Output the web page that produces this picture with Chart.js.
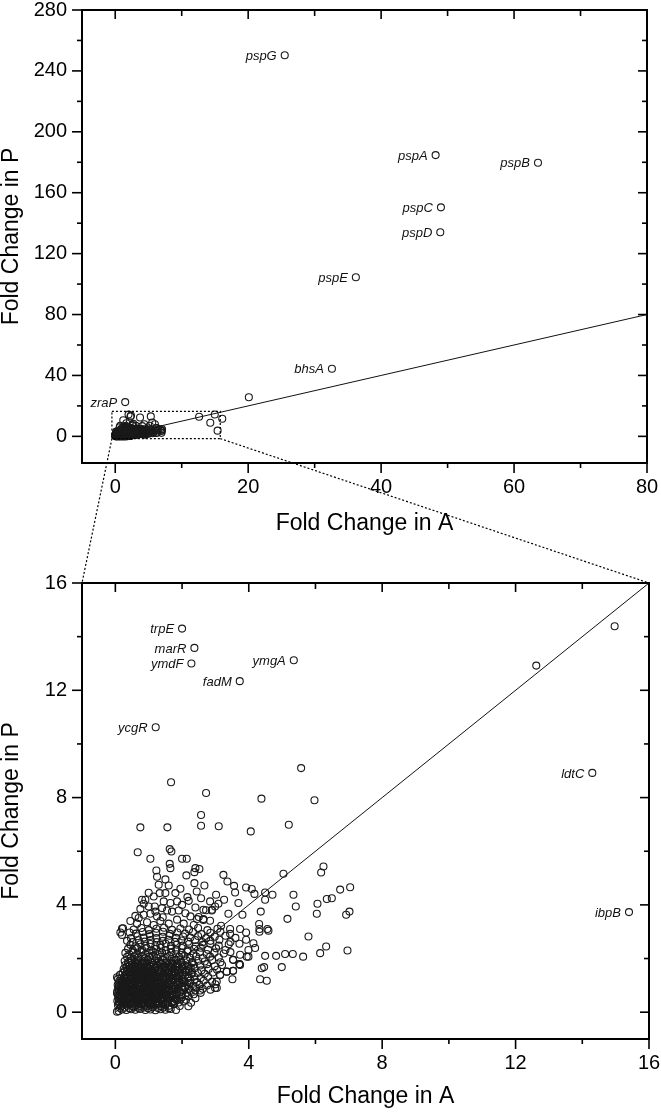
<!DOCTYPE html>
<html>
<head>
<meta charset="utf-8">
<script src="https://cdn.jsdelivr.net/npm/chart.js@4.4.0/dist/chart.umd.min.js"></script>
<style>
  html, body { margin: 0; padding: 0; background: #fff; }
  #wrap { position: relative; width: 661px; height: 1114px; }
  #wrap canvas { position: absolute; left: 0; }
  #topChart { top: 0; }
  #zoomChart { top: 560px; }
  #overlay { top: 0; pointer-events: none; }
</style>
</head>
<body>
<div id="wrap">
  <canvas id="topChart" width="661" height="560"></canvas>
  <canvas id="zoomChart" width="661" height="554"></canvas>
  <canvas id="overlay" width="661" height="1114"></canvas>
</div>
<script>
// ---- labelled genes, full view (Fold change in A, Fold change in P)
var topNames = ['pspG', 'pspA', 'pspB', 'pspC', 'pspD', 'pspE', 'bhsA', 'zraP'];
var topA = [25.5, 48.2, 63.6, 49.0, 48.9, 36.2, 32.6, 1.5];
var topP = [250.3, 184.7, 179.7, 150.4, 134.0, 104.5, 44.4, 22.5];

// ---- labelled genes, zoomed view
var zoomNames = ['trpE', 'marR', 'ymdF', 'fadM', 'ymgA', 'ycgR', 'ldtC', 'ibpB'];
var zoomA = [2.0, 2.37, 2.28, 3.73, 5.35, 1.21, 14.3, 15.4];
var zoomP = [14.3, 13.58, 13.0, 12.34, 13.12, 10.62, 8.92, 3.73];

// ---- other points outside the dense cloud
var highPts = [[12.62, 12.92], [14.97, 14.39], [16.1, 11.6], [20.1, 25.7]];
var midPts = [[1.67, 8.57], [2.72, 8.17], [2.57, 7.35], [4.38, 7.96], [5.57, 9.1], [5.97, 7.9],
  [0.75, 6.89], [1.56, 6.89], [2.57, 6.95], [3.1, 6.93], [4.06, 6.74], [5.2, 6.99]];
var outerPts = [[3.24, 5.12], [3.36, 4.87], [3.56, 4.71], [3.59, 4.46], [3.92, 4.65], [4.09, 4.59], [4.17, 4.41],
  [4.49, 4.46], [4.71, 4.38], [4.49, 4.19], [5.04, 5.16], [6.24, 5.43], [6.17, 5.21], [5.34, 4.38], [5.41, 3.94],
  [5.16, 3.48], [6.06, 4.04], [6.04, 3.67], [6.34, 4.22], [4.36, 3.75], [3.81, 3.63], [3.39, 3.67], [3.69, 4.07],
  [3.26, 4.19], [3.09, 4.04], [4.31, 3.29], [4.32, 3.1], [4.56, 3.1], [5.79, 2.82], [6.32, 2.45], [6.14, 2.2],
  [5.63, 2.07], [5.32, 2.17], [5.09, 2.17], [4.82, 2.1], [4.99, 1.68], [4.49, 2.1], [4.39, 1.64], [4.46, 1.68],
  [4.34, 1.23], [4.54, 1.17], [4.19, 2.39], [3.94, 2.07], [3.99, 2.32], [3.74, 1.76], [3.51, 1.23], [3.72, 2.55],
  [4.32, 3.0], [4.59, 3.04], [6.74, 4.57], [7.04, 4.66], [6.92, 3.63], [7.02, 3.75], [6.96, 2.3], [6.49, 4.25],
  [3.17, 3.22], [3.44, 3.1], [3.74, 3.1], [3.92, 2.97], [3.92, 2.7], [4.14, 2.57], [3.72, 1.79], [3.53, 1.95],
  [3.53, 1.54], [3.34, 1.51], [3.14, 1.39], [3.04, 1.14], [2.99, 0.9], [2.54, 0.81], [2.99, 3.94], [2.72, 3.8],
  [2.9, 3.82], [2.64, 3.47], [2.45, 3.47]];
var sprayPts = [[0.6, 3.59], [0.7, 3.51], [0.85, 3.63], [1.05, 3.67], [1.25, 3.57], [1.42, 3.54], [0.23, 3.13],
  [2.64, 3.44], [2.84, 3.41], [0.8, 4.19], [0.9, 4.19], [0.85, 4.04], [1.0, 3.94], [1.18, 3.94], [1.4, 3.88],
  [1.55, 3.79], [1.7, 3.75], [1.9, 3.79], [2.1, 3.69], [2.25, 3.57], [1.15, 4.31], [1.3, 4.75], [1.6, 4.72],
  [1.5, 4.44], [1.33, 4.44], [1.8, 4.44], [1.85, 4.13], [1.65, 4.07], [1.45, 4.13], [2.16, 4.29], [2.44, 4.5],
  [2.57, 4.25], [2.84, 4.13], [2.89, 3.79], [2.64, 3.82], [2.4, 3.9], [2.37, 4.81], [2.67, 4.72], [3.02, 4.38],
  [0.67, 5.96], [1.05, 5.72], [1.23, 5.28], [1.63, 6.08], [1.68, 5.99], [1.63, 5.53], [1.65, 5.37], [2.0, 5.72],
  [2.14, 5.72], [2.13, 5.1], [2.4, 5.37], [2.52, 5.34], [2.37, 5.22], [0.65, 3.3], [0.95, 3.35], [1.15, 3.25],
  [1.35, 3.4], [1.6, 3.3], [1.85, 3.45], [2.05, 3.3], [2.35, 3.25], [2.5, 3.55], [0.45, 3.4], [1.2, 3.75],
  [2.0, 4.0], [2.2, 4.15], [1.0, 4.45], [1.95, 4.6], [0.75, 3.85], [1.5, 4.95], [1.25, 5.05]];

// ---- the dense cloud near the origin, read row by row
var corePts = [
  [0.05, 0.02], [0.1, 0.04], [0.2, 0.1], [0.33, 0.08], [0.47, 0.11], [0.6, 0.09], [0.74, 0.12], [0.9, 0.08], [1.05, 0.1], [1.2, 0.07], [1.35, 0.11], [1.5, 0.09], [1.66, 0.12], [1.82, 0.08], [2.19, 0.22],
  [0.08, 0.26], [0.17, 0.22], [0.26, 0.29], [0.35, 0.24], [0.43, 0.3], [0.51, 0.23], [0.6, 0.27], [0.69, 0.21], [0.78, 0.3], [0.87, 0.25], [0.96, 0.22], [1.05, 0.29], [1.14, 0.24], [1.25, 0.3], [1.37, 0.22], [1.49, 0.27], [1.61, 0.24], [1.76, 0.3], [1.93, 0.23],
  [0.06, 0.42], [0.14, 0.37], [0.22, 0.44], [0.3, 0.39], [0.37, 0.45], [0.45, 0.36], [0.53, 0.41], [0.6, 0.46], [0.67, 0.38], [0.75, 0.43], [0.83, 0.37], [0.9, 0.45], [0.98, 0.4], [1.06, 0.36], [1.14, 0.44], [1.23, 0.39], [1.33, 0.46], [1.44, 0.38], [1.56, 0.43], [1.7, 0.37], [1.85, 0.44], [2.05, 0.4], [2.27, 0.35],
  [0.1, 0.57], [0.19, 0.52], [0.27, 0.59], [0.34, 0.53], [0.41, 0.58], [0.48, 0.51], [0.55, 0.56], [0.62, 0.6], [0.69, 0.52], [0.76, 0.57], [0.83, 0.53], [0.9, 0.59], [0.97, 0.51], [1.04, 0.56], [1.11, 0.6], [1.19, 0.53], [1.27, 0.58], [1.36, 0.52], [1.46, 0.57], [1.57, 0.54], [1.7, 0.59], [1.84, 0.51], [2.0, 0.56], [2.18, 0.6], [2.4, 0.52],
  [0.05, 0.71], [0.13, 0.66], [0.21, 0.73], [0.29, 0.68], [0.36, 0.74], [0.43, 0.66], [0.5, 0.71], [0.57, 0.75], [0.64, 0.67], [0.71, 0.72], [0.78, 0.68], [0.85, 0.74], [0.92, 0.66], [0.99, 0.71], [1.06, 0.75], [1.13, 0.68], [1.2, 0.73], [1.28, 0.67], [1.37, 0.72], [1.47, 0.69], [1.58, 0.74], [1.7, 0.66], [1.83, 0.71], [1.98, 0.68], [2.15, 0.73], [2.35, 0.67], [2.56, 0.72],
  [0.09, 0.86], [0.17, 0.81], [0.25, 0.88], [0.32, 0.83], [0.39, 0.89], [0.46, 0.81], [0.53, 0.86], [0.6, 0.9], [0.67, 0.82], [0.74, 0.87], [0.81, 0.83], [0.88, 0.89], [0.95, 0.81], [1.02, 0.86], [1.09, 0.9], [1.16, 0.83], [1.24, 0.88], [1.32, 0.82], [1.41, 0.87], [1.51, 0.84], [1.62, 0.89], [1.74, 0.81], [1.88, 0.86], [2.03, 0.83], [2.2, 0.88], [2.4, 0.82], [2.62, 0.87], [2.85, 0.84],
  [0.07, 1.01], [0.15, 0.96], [0.23, 1.03], [0.31, 0.98], [0.38, 1.04], [0.45, 0.96], [0.52, 1.01], [0.59, 1.05], [0.66, 0.97], [0.73, 1.02], [0.8, 0.98], [0.87, 1.04], [0.94, 0.96], [1.01, 1.01], [1.08, 1.05], [1.15, 0.98], [1.23, 1.03], [1.31, 0.97], [1.4, 1.02], [1.5, 0.99], [1.61, 1.04], [1.73, 0.96], [1.86, 1.01], [2.0, 0.98], [2.16, 1.03], [2.33, 0.97], [2.52, 1.02], [2.75, 0.99], [3.0, 1.04],
  [0.12, 1.16], [0.2, 1.11], [0.28, 1.18], [0.36, 1.13], [0.43, 1.19], [0.5, 1.11], [0.57, 1.16], [0.64, 1.2], [0.71, 1.12], [0.78, 1.17], [0.85, 1.13], [0.92, 1.19], [0.99, 1.11], [1.06, 1.16], [1.13, 1.2], [1.21, 1.13], [1.29, 1.18], [1.38, 1.12], [1.47, 1.17], [1.57, 1.14], [1.68, 1.19], [1.8, 1.11], [1.93, 1.16], [2.08, 1.13], [2.25, 1.18], [2.44, 1.12], [2.65, 1.17], [2.9, 1.14], [3.04, 0.9],
  [0.05, 1.3], [0.18, 1.26], [0.27, 1.33], [0.35, 1.28], [0.43, 1.34], [0.5, 1.26], [0.58, 1.31], [0.65, 1.35], [0.72, 1.27], [0.79, 1.32], [0.86, 1.28], [0.93, 1.34], [1.0, 1.26], [1.08, 1.31], [1.16, 1.35], [1.24, 1.28], [1.33, 1.33], [1.42, 1.27], [1.52, 1.32], [1.63, 1.29], [1.75, 1.34], [1.88, 1.26], [2.02, 1.31], [2.18, 1.28], [2.36, 1.33], [2.56, 1.27], [2.78, 1.32], [3.14, 1.39],
  [0.22, 1.46], [0.31, 1.41], [0.4, 1.48], [0.48, 1.43], [0.56, 1.49], [0.63, 1.41], [0.7, 1.46], [0.78, 1.5], [0.85, 1.42], [0.93, 1.47], [1.01, 1.43], [1.09, 1.49], [1.17, 1.41], [1.26, 1.46], [1.35, 1.5], [1.45, 1.43], [1.56, 1.48], [1.68, 1.42], [1.81, 1.47], [1.95, 1.44], [2.11, 1.49], [2.28, 1.41], [2.47, 1.46], [2.68, 1.43], [2.92, 1.48], [3.34, 1.51],
  [0.25, 1.61], [0.35, 1.56], [0.44, 1.63], [0.52, 1.58], [0.6, 1.64], [0.68, 1.56], [0.76, 1.61], [0.84, 1.65], [0.92, 1.57], [1.0, 1.62], [1.09, 1.58], [1.18, 1.64], [1.28, 1.56], [1.38, 1.61], [1.49, 1.65], [1.61, 1.58], [1.74, 1.63], [1.88, 1.57], [2.03, 1.62], [2.2, 1.59], [2.38, 1.64], [2.58, 1.56], [2.8, 1.61], [3.05, 1.58], [3.53, 1.54],
  [0.3, 1.76], [0.4, 1.71], [0.5, 1.78], [0.59, 1.73], [0.68, 1.79], [0.77, 1.71], [0.86, 1.76], [0.95, 1.8], [1.05, 1.72], [1.15, 1.77], [1.25, 1.73], [1.36, 1.79], [1.48, 1.71], [1.6, 1.76], [1.73, 1.8], [1.87, 1.73], [2.02, 1.78], [2.18, 1.72], [2.35, 1.77], [2.54, 1.74], [2.75, 1.79], [2.98, 1.71], [3.2, 1.76], [3.72, 1.79],
  [0.28, 1.91], [0.38, 1.86], [0.48, 1.93], [0.58, 1.88], [0.68, 1.94], [0.78, 1.86], [0.88, 1.91], [0.98, 1.95], [1.08, 1.87], [1.19, 1.92], [1.3, 1.88], [1.42, 1.94], [1.55, 1.86], [1.68, 1.91], [1.82, 1.95], [1.97, 1.88], [2.13, 1.93], [2.3, 1.87], [2.48, 1.92], [2.68, 1.89], [2.9, 1.94], [3.15, 1.86], [3.53, 1.95],
  [0.35, 2.06], [0.46, 2.01], [0.57, 2.08], [0.68, 2.03], [0.79, 2.09], [0.9, 2.01], [1.01, 2.06], [1.12, 2.1], [1.24, 2.02], [1.36, 2.07], [1.49, 2.03], [1.62, 2.09], [1.76, 2.01], [1.91, 2.06], [2.07, 2.1], [2.24, 2.03], [2.42, 2.08], [2.62, 2.02], [2.84, 2.07], [3.1, 2.04], [3.74, 2.14], [3.99, 2.07],
  [0.3, 2.21], [0.42, 2.16], [0.54, 2.23], [0.66, 2.18], [0.78, 2.24], [0.9, 2.16], [1.02, 2.21], [1.14, 2.25], [1.27, 2.17], [1.4, 2.22], [1.54, 2.18], [1.68, 2.24], [1.83, 2.16], [1.99, 2.21], [2.16, 2.25], [2.34, 2.18], [2.53, 2.23], [2.74, 2.17], [2.97, 2.22], [3.25, 2.19], [3.45, 2.24],
  [0.38, 2.36], [0.52, 2.31], [0.66, 2.38], [0.8, 2.33], [0.94, 2.39], [1.08, 2.31], [1.22, 2.36], [1.36, 2.4], [1.51, 2.32], [1.66, 2.37], [1.82, 2.33], [1.99, 2.39], [2.17, 2.31], [2.36, 2.36], [2.56, 2.4], [2.78, 2.33], [3.02, 2.38], [3.3, 2.32],
  [0.45, 2.51], [0.6, 2.46], [0.75, 2.53], [0.9, 2.48], [1.05, 2.54], [1.2, 2.46], [1.35, 2.51], [1.51, 2.55], [1.67, 2.47], [1.84, 2.52], [2.02, 2.48], [2.21, 2.54], [2.41, 2.46], [2.62, 2.51], [2.85, 2.55], [3.1, 2.48], [3.4, 2.53],
  [0.35, 2.66], [0.52, 2.61], [0.7, 2.68], [0.88, 2.63], [1.06, 2.69], [1.24, 2.61], [1.42, 2.66], [1.6, 2.7], [1.79, 2.62], [1.98, 2.67], [2.18, 2.63], [2.39, 2.69], [2.61, 2.61], [2.85, 2.66], [3.12, 2.7], [3.45, 2.62],
  [0.2, 2.88], [0.47, 2.76], [0.66, 2.83], [0.85, 2.78], [1.04, 2.84], [1.23, 2.76], [1.42, 2.81], [1.62, 2.85], [1.82, 2.77], [2.03, 2.82], [2.25, 2.78], [2.48, 2.84], [2.72, 2.76], [2.98, 2.81], [3.3, 2.85], [3.6, 2.77],
  [0.15, 2.97], [0.43, 2.97], [0.62, 2.93], [0.82, 2.99], [1.02, 2.91], [1.22, 2.96], [1.43, 3.0], [1.64, 2.92], [1.86, 2.97], [2.09, 2.93], [2.33, 2.99], [2.58, 2.91], [2.85, 2.96], [3.15, 3.0], [3.44, 2.92],
  [0.2, 3.12], [0.55, 3.08], [0.78, 3.14], [1.0, 3.06], [1.23, 3.11], [1.46, 3.15], [1.7, 3.07], [1.95, 3.12], [2.21, 3.08], [2.48, 3.14], [2.76, 3.06], [3.06, 3.11]
];
var coreExtraPts = [[0.42, 0.62], [0.5, 0.78], [0.58, 0.93], [0.66, 1.08], [0.74, 0.62], [0.82, 0.78], [0.9, 0.93],
  [0.98, 1.08], [1.06, 0.62], [1.14, 0.78], [1.22, 0.93], [0.46, 1.23], [0.62, 1.23], [0.78, 1.23], [0.94, 1.23],
  [1.1, 1.23], [0.38, 0.48], [0.54, 0.48], [0.7, 0.48], [0.86, 0.48], [1.02, 0.48], [1.18, 0.48], [0.35, 0.93],
  [0.5, 1.08], [0.27, 0.78], [0.19, 0.62], [1.3, 1.08], [1.38, 0.78], [1.3, 0.62], [0.85, 1.38], [1.0, 1.53],
  [0.7, 1.53], [1.15, 1.38], [0.55, 1.38], [1.25, 1.53], [0.6, 0.33], [0.8, 0.33], [1.0, 0.33], [0.4, 0.33],
  [1.2, 0.33], [0.3, 1.08], [0.22, 0.93], [1.45, 0.93], [1.55, 1.08], [1.45, 1.23], [1.62, 1.38], [0.15, 0.48],
  [0.12, 0.78], [0.95, 1.68], [1.35, 1.68], [0.65, 1.68], [1.1, 1.83], [0.8, 1.83], [1.5, 1.83], [1.7, 1.53],
  [1.8, 1.68], [1.9, 1.38]];
var coreInnerPts = [
  [0.14, 0.16], [0.28, 0.17], [0.42, 0.15], [0.56, 0.18], [0.7, 0.16], [0.84, 0.17], [0.98, 0.15], [1.12, 0.18], [1.28, 0.16], [1.44, 0.17], [1.6, 0.15],
  [0.1, 0.33], [0.2, 0.34], [0.3, 0.32], [0.5, 0.34], [0.7, 0.33], [0.9, 0.32], [1.1, 0.34], [1.3, 0.33], [1.5, 0.32], [1.7, 0.33],
  [0.1, 0.49], [0.25, 0.5], [0.45, 0.49], [0.62, 0.5], [0.78, 0.49], [0.94, 0.5], [1.1, 0.49], [1.26, 0.5], [1.42, 0.49], [1.6, 0.5], [1.8, 0.49],
  [0.08, 0.63], [0.24, 0.64], [0.38, 0.63], [0.54, 0.64], [0.68, 0.63], [0.8, 0.64], [0.96, 0.63], [1.08, 0.64], [1.22, 0.63], [1.4, 0.64], [1.55, 0.63], [1.75, 0.64],
  [0.06, 0.79], [0.2, 0.78], [0.34, 0.79], [0.46, 0.78], [0.6, 0.79], [0.72, 0.78], [0.88, 0.79], [1.0, 0.78], [1.18, 0.79], [1.26, 0.78], [1.5, 0.79], [1.68, 0.78], [1.9, 0.79],
  [0.1, 0.94], [0.28, 0.93], [0.42, 0.94], [0.56, 0.93], [0.7, 0.94], [0.84, 0.93], [0.98, 0.94], [1.12, 0.93], [1.28, 0.94], [1.36, 0.93], [1.56, 0.94], [1.78, 0.93], [2.1, 0.94],
  [0.1, 1.09], [0.24, 1.08], [0.4, 1.09], [0.58, 1.08], [0.74, 1.09], [0.9, 1.08], [1.04, 1.09], [1.2, 1.08], [1.38, 1.09], [1.64, 1.08], [1.86, 1.09],
  [0.08, 1.24], [0.3, 1.23], [0.54, 1.24], [0.7, 1.23], [0.86, 1.24], [1.02, 1.23], [1.18, 1.24], [1.34, 1.23], [1.54, 1.24], [1.74, 1.23], [2.0, 1.24],
  [0.14, 1.39], [0.3, 1.38], [0.46, 1.39], [0.62, 1.38], [0.76, 1.39], [0.92, 1.38], [1.06, 1.39], [1.24, 1.38], [1.42, 1.39], [1.74, 1.38], [2.1, 1.39],
  [0.28, 1.54], [0.46, 1.53], [0.6, 1.54], [0.8, 1.53], [0.9, 1.54], [1.12, 1.53], [1.36, 1.54], [1.5, 1.53], [1.86, 1.54], [2.2, 1.53],
  [0.34, 1.69], [0.52, 1.68], [0.74, 1.69], [0.86, 1.68], [1.04, 1.69], [1.2, 1.68], [1.5, 1.69], [1.64, 1.68], [2.0, 1.69],
  [0.42, 1.84], [0.62, 1.83], [0.94, 1.84], [1.24, 1.83], [1.36, 1.84], [1.7, 1.83], [1.98, 1.84], [2.3, 1.83]
];
var coreRightPts = [[1.42, 0.3], [1.58, 0.35], [1.74, 0.42], [1.9, 0.36], [1.36, 0.46], [1.52, 0.6], [1.66, 0.55],
  [1.82, 0.62], [1.96, 0.5], [2.12, 0.46], [1.44, 0.72], [1.6, 0.82], [1.78, 0.86], [1.94, 0.74], [2.1, 0.62],
  [2.26, 0.8], [1.42, 0.96], [1.58, 1.14], [1.76, 1.0], [1.92, 1.1], [2.08, 0.9], [2.24, 1.08], [2.4, 0.94],
  [1.5, 1.28], [1.68, 1.24], [1.84, 1.32], [2.02, 1.18], [2.2, 1.34], [2.38, 1.22], [1.58, 1.46], [1.76, 1.52],
  [1.94, 1.6], [2.12, 1.56], [2.3, 1.48], [1.66, 1.72], [1.86, 1.82], [2.08, 1.76], [2.26, 1.66]];

// ---- axes
var topRangeA = [-5, 80], topRangeP = [-17.5, 280];
var topTicksA = [0, 20, 40, 60, 80], topMinorA = [10, 30, 50, 70];
var topTicksP = [0, 40, 80, 120, 160, 200, 240, 280], topMinorP = [20, 60, 100, 140, 180, 220, 260];
var zoomRange = [-1, 16];
var zoomTicks = [0, 4, 8, 12, 16], zoomMinor = [2, 6, 10, 14];
var zoomBox = [-0.5, 15.8, -1.5, 16.4]; // region of the top plot shown below (A min, A max, P min, P max)
var diagTop = [[0, 0], [80, 80]];
var diagZoom = [[0, 0], [16, 16]];

var allPts = [].concat(corePts, coreExtraPts, coreInnerPts, coreRightPts, sprayPts, outerPts, midPts, highPts);
zoomA.forEach(function (a, i) { allPts.push([a, zoomP[i]]); });
topA.forEach(function (a, i) { allPts.push([a, topP[i]]); });
var scatterData = allPts.map(function (p) { return {x: p[0], y: p[1]}; });

var FONT = '"Liberation Sans", Arial, sans-serif';

var framePlugin = {
    id: 'frame',
    afterDraw: function (chart, args, o) {
        var ctx = chart.ctx, ca = chart.chartArea;
        var xs = chart.scales.x, ys = chart.scales.y;
        var line = function (x1, y1, x2, y2) {
            ctx.beginPath(); ctx.moveTo(x1, y1); ctx.lineTo(x2, y2); ctx.stroke();
        };
        ctx.save();
        ctx.strokeStyle = '#000';
        ctx.lineWidth = 2;
        ctx.strokeRect(ca.left, ca.top, ca.right - ca.left, ca.bottom - ca.top);
        ctx.lineWidth = 1.6;
        o.xMajor.forEach(function (v) {
            var px = xs.getPixelForValue(v);
            line(px, ca.bottom, px, ca.bottom + 10);
            line(px, ca.top, px, ca.top + 9);
        });
        o.xMinor.forEach(function (v) {
            var px = xs.getPixelForValue(v);
            line(px, ca.bottom, px, ca.bottom + 5);
            line(px, ca.top, px, ca.top + 6);
        });
        o.yMajor.forEach(function (v) {
            var py = ys.getPixelForValue(v);
            line(ca.left - 10, py, ca.left, py);
            line(ca.right - 9, py, ca.right, py);
        });
        o.yMinor.forEach(function (v) {
            var py = ys.getPixelForValue(v);
            line(ca.left - 5, py, ca.left, py);
            line(ca.right - 5, py, ca.right, py);
        });
        ctx.restore();
    }
};

var labelPlugin = {
    id: 'geneLabels',
    afterDatasetsDraw: function (chart, args, o) {
        var ctx = chart.ctx;
        ctx.save();
        ctx.font = 'italic 13px ' + FONT;
        ctx.fillStyle = '#111';
        ctx.textAlign = 'right';
        ctx.textBaseline = 'middle';
        o.names.forEach(function (n, i) {
            ctx.fillText(n, chart.scales.x.getPixelForValue(o.a[i]) - 8, chart.scales.y.getPixelForValue(o.p[i]) + 1);
        });
        ctx.restore();
    }
};

function noLabelPadding(s) {
    s.paddingLeft = 0; s.paddingRight = 0; s.paddingTop = 0; s.paddingBottom = 0;
}

function makeConfig(rA, rP, ticksA, minorA, ticksP, minorP, diag, names, a, p, pad, xHeight, titlePad) {
    return {
        type: 'scatter',
        data: {
            datasets: [{
                data: scatterData,
                pointStyle: 'circle',
                pointRadius: 3.5,
                borderWidth: 1.1,
                borderColor: '#1a1a1a',
                backgroundColor: 'rgba(0,0,0,0)'
            }, {
                type: 'line',
                data: diag.map(function (d) { return {x: d[0], y: d[1]}; }),
                borderColor: '#111',
                borderWidth: 1,
                pointRadius: 0,
                fill: false
            }]
        },
        options: {
            responsive: false,
            animation: false,
            devicePixelRatio: 1,
            events: [],
            layout: {padding: pad},
            plugins: {
                legend: {display: false},
                tooltip: {enabled: false},
                frame: {xMajor: ticksA, xMinor: minorA, yMajor: ticksP, yMinor: minorP},
                geneLabels: {names: names, a: a, p: p}
            },
            scales: {
                x: {
                    type: 'linear', min: rA[0], max: rA[1],
                    grid: {display: false, drawTicks: false},
                    border: {display: false},
                    afterBuildTicks: function (s) { s.ticks = ticksA.map(function (v) { return {value: v}; }); },
                    afterFit: function (s) { s.height = xHeight; noLabelPadding(s); },
                    ticks: {color: '#000', padding: 14, maxRotation: 0, font: {family: FONT, size: 20, lineHeight: 1}},
                    title: {display: true, text: 'Fold Change in A', color: '#000',
                        padding: {top: 0, bottom: titlePad}, font: {family: FONT, size: 23, lineHeight: 1}}
                },
                y: {
                    type: 'linear', min: rP[0], max: rP[1],
                    grid: {display: false, drawTicks: false},
                    border: {display: false},
                    afterBuildTicks: function (s) { s.ticks = ticksP.map(function (v) { return {value: v}; }); },
                    afterFit: function (s) { s.width = 82; noLabelPadding(s); },
                    ticks: {color: '#000', padding: 15, font: {family: FONT, size: 20, lineHeight: 1}},
                    title: {display: true, text: 'Fold Change in P', color: '#000',
                        padding: {top: 0, bottom: 0}, font: {family: FONT, size: 23, lineHeight: 1}}
                }
            }
        },
        plugins: [framePlugin, labelPlugin]
    };
}

var topChart = new Chart(document.getElementById('topChart'),
    makeConfig(topRangeA, topRangeP, topTicksA, topMinorA, topTicksP, topMinorP, diagTop,
        topNames, topA, topP, {top: 10, right: 14, left: 0, bottom: 0}, 97, 25));

var zoomChart = new Chart(document.getElementById('zoomChart'),
    makeConfig(zoomRange, zoomRange, zoomTicks, zoomMinor, zoomTicks, zoomMinor, diagZoom,
        zoomNames, zoomA, zoomP, {top: 23, right: 12, left: 0, bottom: 0}, 75, 6));

// dotted box on the top plot and the lines leading to the zoomed plot
(function () {
    var ov = document.getElementById('overlay').getContext('2d');
    var tx = topChart.scales.x, ty = topChart.scales.y;
    var bx = zoomChart.scales.x, by = zoomChart.scales.y;
    var offset = 560;
    var l = tx.getPixelForValue(zoomBox[0]), r = tx.getPixelForValue(zoomBox[1]);
    var b = ty.getPixelForValue(zoomBox[2]), t = ty.getPixelForValue(zoomBox[3]);
    ov.strokeStyle = '#000';
    ov.lineWidth = 1.2;
    ov.setLineDash([2, 2]);
    ov.strokeRect(l, t, r - l, b - t);
    ov.beginPath();
    ov.moveTo(l, b);
    ov.lineTo(bx.getPixelForValue(zoomRange[0]), offset + by.getPixelForValue(zoomRange[1]));
    ov.moveTo(r, b);
    ov.lineTo(bx.getPixelForValue(zoomRange[1]), offset + by.getPixelForValue(zoomRange[1]));
    ov.stroke();
})();
</script>
</body>
</html>
